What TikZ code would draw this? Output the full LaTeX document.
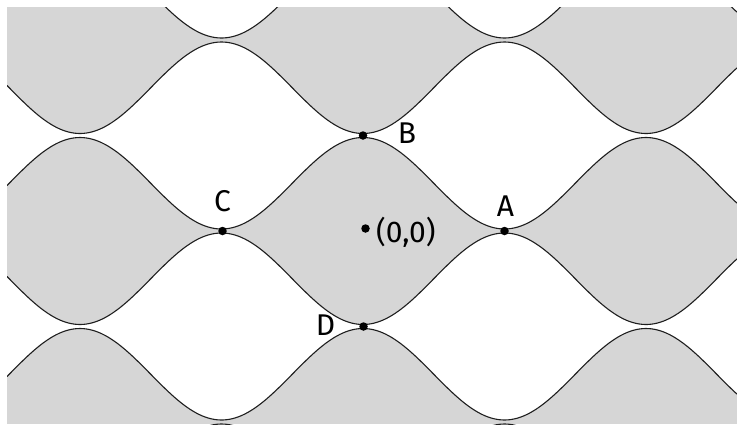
\documentclass[tikz,border=0pt]{standalone}
\usepackage{fontspec}
\setmainfont{Fira Sans}
\definecolor{bandgray}{RGB}{214,214,214}
\definecolor{curvecol}{RGB}{30,30,30}
\begin{document}
\begin{tikzpicture}[x=1pt,y=-1pt,
  declare function={yc(\m,\t)=40+95.5*\m-47.75+45.75*cos(180*(\m+1))*cos(1.272085*(\t-363));},
  curve/.style={draw=curvecol,line width=1.1pt},
  dot/.style={circle,fill=black,inner sep=0pt,minimum size=8.5pt},
  lbl/.style={font=\fontsize{30}{30}\selectfont,inner sep=0pt,text=black}]
\useasboundingbox (0,0) rectangle (737,424);
\fill[bandgray] (7,7) rectangle (737,424);
\begin{scope}
  \clip (7,7) rectangle (737,424);
  % white region above curve 0
  \fill[white] (7,-120) -- plot[domain=7:737,samples=240] (\x,{yc(0,\x)}) -- (737,-120) -- cycle;
  % white bands
  \foreach \m in {1,3,5}{
    \pgfmathtruncatemacro{\n}{\m+1}
    \fill[white] plot[domain=7:737,samples=240] (\x,{yc(\m,\x)})
      -- plot[domain=737:7,samples=240] (\x,{yc(\n,\x)}) -- cycle;
  }
  \foreach \m in {0,...,5}{
    \draw[curve] plot[domain=7:737,samples=240] (\x,{yc(\m,\x)});
  }
\end{scope}
\node[dot] (A) at (504.5,231) {};
\node[dot] (B) at (363,135.5) {};
\node[dot] (C) at (222.5,231) {};
\node[dot] (D) at (363.5,326.5) {};
\node[dot] (O) at (365.5,228.5) {};
\node[lbl] (Al) at (505.5,206.5) {A};
\node[lbl] (Bl) at (407,133.5) {B};
\node[lbl] (Cl) at (222.5,201.5) {C};
\node[lbl] (Dl) at (325.5,325.5) {D};
\node[lbl,anchor=west] (Ol) at (376,232.5) {(0,0)};
\end{tikzpicture}
\end{document}
